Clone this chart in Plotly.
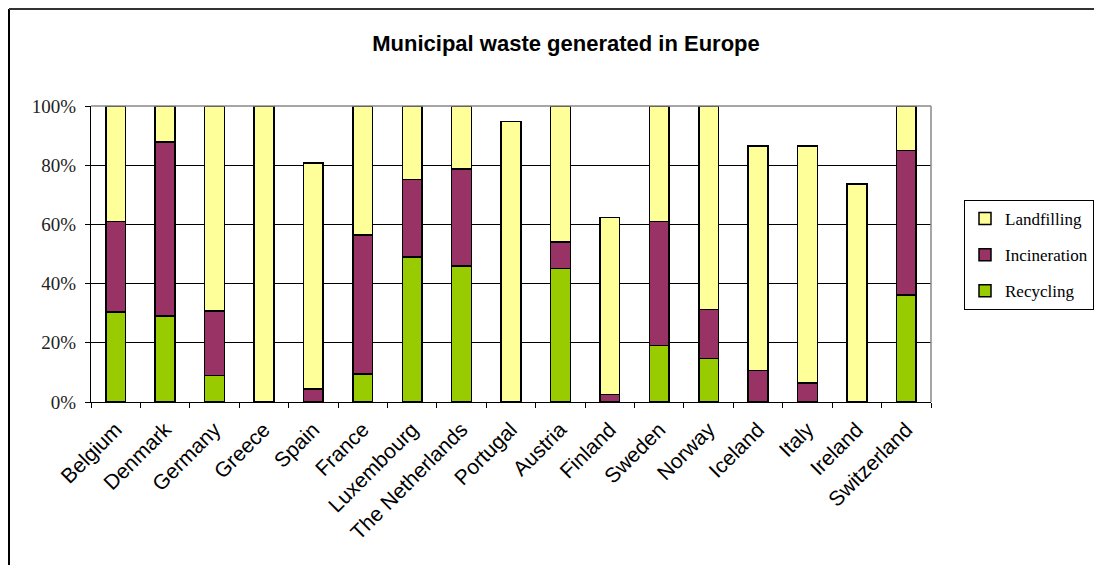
import plotly.graph_objects as go

countries = ["Belgium", "Denmark", "Germany", "Greece", "Spain", "France", "Luxembourg",
             "The Netherlands", "Portugal", "Austria", "Finland", "Sweden", "Norway",
             "Iceland", "Italy", "Ireland", "Switzerland"]
recycling = [30.4, 29.1, 8.9, 0, 0, 9.5, 49.0, 45.9, 0, 45.1, 0, 19.1, 14.7, 0, 0, 0, 36.2]
incineration = [30.6, 58.7, 21.8, 0, 4.4, 47.0, 26.2, 32.9, 0, 9.0, 2.5, 41.9, 16.5, 10.7, 6.4, 0, 48.8]
landfilling = [39.0, 12.2, 69.3, 100.0, 76.4, 43.5, 24.8, 21.2, 94.8, 45.9, 59.8, 39.0, 68.8, 75.8, 80.1, 73.7, 15.0]
y_ticks = [0, 20, 40, 60, 80, 100]
y_tick_labels = ["0%", "20%", "40%", "60%", "80%", "100%"]

OFF = 8  # browser body margin
W, H = 1102 - OFF, 565 - OFF
L, R, T, B = 91 - OFF, 931 - OFF, 106 - OFF, 402 - OFF


def px(x):
    return (x - OFF - L) / (R - L)


def py(y):
    return (B - (y - OFF)) / (B - T)


fig = go.Figure()
for name, vals, col, rank in [("Recycling", recycling, "#99CC00", 3),
                              ("Incineration", incineration, "#993366", 2),
                              ("Landfilling", landfilling, "#FFFF99", 1)]:
    fig.add_trace(go.Bar(x=countries, y=vals, name=name, legendgroup=name, legendrank=rank,
                         marker=dict(color=col, line=dict(color="black", width=1.5)),
                         width=0.4))

fig.update_layout(
    width=W, height=H,
    margin=dict(l=L, r=W - R, t=T, b=H - B, autoexpand=False),
    barmode="stack",
    plot_bgcolor="white", paper_bgcolor="white",
    title=dict(text="<b>Municipal waste generated in Europe</b>",
               font=dict(family="Liberation Sans", size=22, color="black"),
               x=(566 - OFF) / W, xanchor="center", y=1 - (43 - OFF) / H, yanchor="middle"),
    legend=dict(xref="container", yref="container",
                x=(964 - OFF) / W, y=1 - (200 - OFF) / H, xanchor="left", yanchor="top",
                bordercolor="black", borderwidth=1, bgcolor="white",
                font=dict(family="Liberation Serif", size=17, color="black"),
                traceorder="grouped", tracegroupgap=11, itemwidth=30),
    xaxis=dict(showline=True, linecolor="black", linewidth=1, ticks="outside",
               tickson="boundaries", ticklen=5, tickcolor="black", tickangle=-45,
               ticklabelstandoff=6,
               tickfont=dict(family="Liberation Sans", size=21, color="black"),
               showgrid=False, fixedrange=True),
    yaxis=dict(range=[0, 100], tickvals=y_ticks, ticktext=y_tick_labels,
               showline=True, linecolor="black", linewidth=1, ticks="outside",
               ticklen=5, tickcolor="black", showgrid=True, gridcolor="black",
               gridwidth=1, zeroline=False, ticklabelstandoff=5,
               tickfont=dict(family="Liberation Serif", size=19, color="#222"),
               fixedrange=True),
    shapes=[
        dict(type="line", xref="paper", yref="paper", x0=0, x1=1, y0=1, y1=1,
             line=dict(color="#888", width=1.5)),
        dict(type="line", xref="paper", yref="paper", x0=1, x1=1, y0=0, y1=1,
             line=dict(color="#888", width=1.5)),
        dict(type="line", xref="paper", yref="paper", x0=px(9), x1=px(9), y0=py(9), y1=py(600),
             line=dict(color="black", width=2)),
        dict(type="line", xref="paper", yref="paper", x0=px(9), x1=px(1110), y0=py(9), y1=py(9),
             line=dict(color="#333", width=2)),
    ],
)

fig.write_html("out.html")
